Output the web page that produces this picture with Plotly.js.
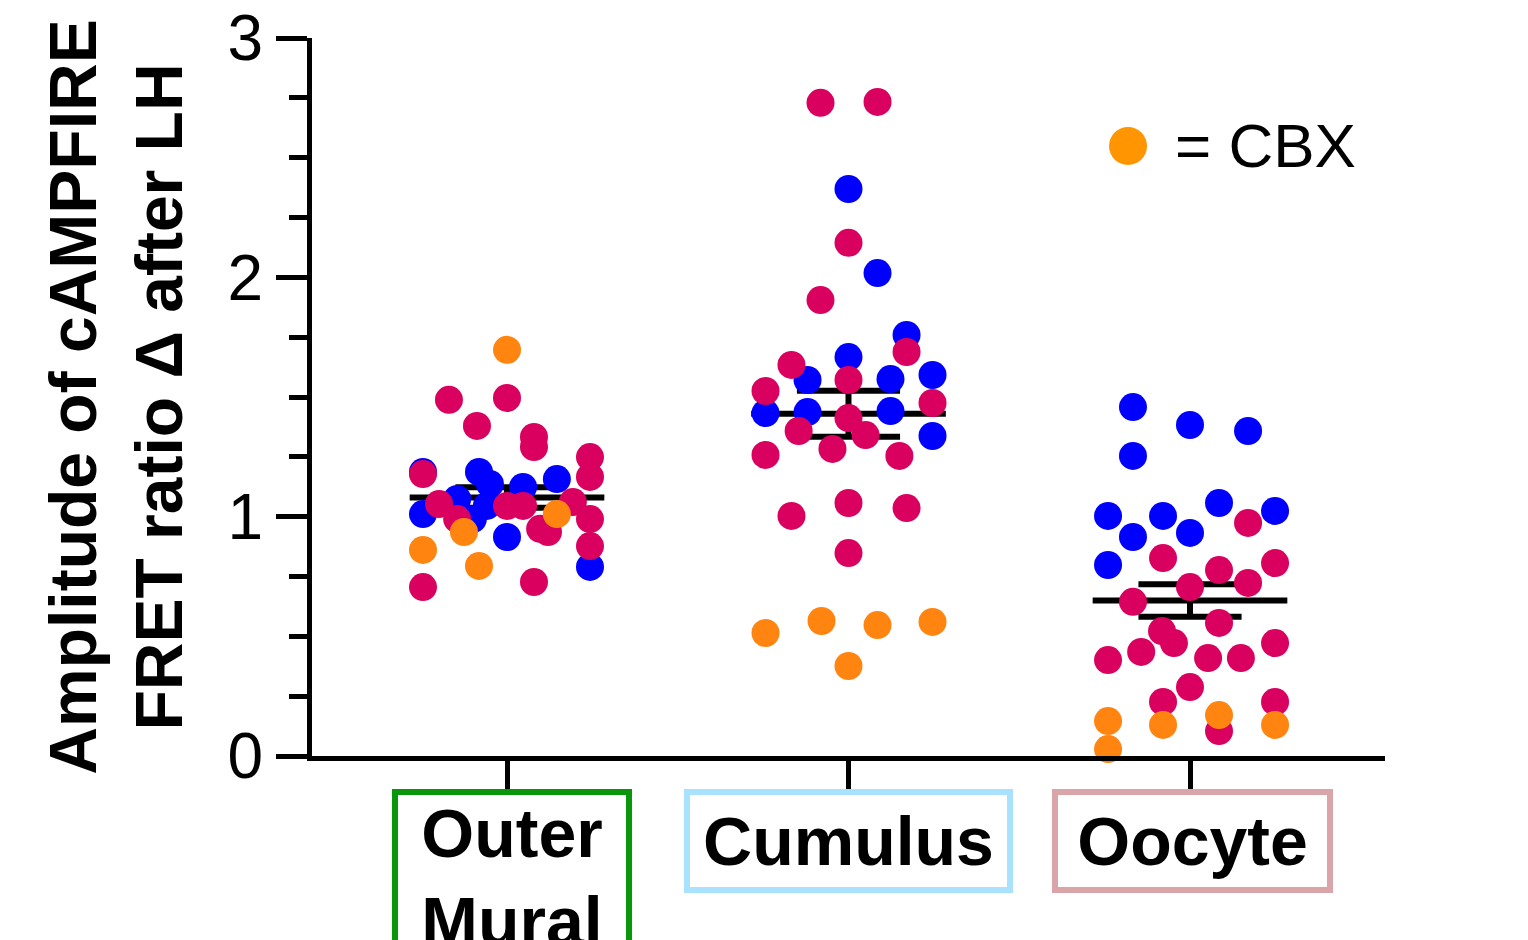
<!DOCTYPE html>
<html>
<head>
<meta charset="utf-8">
<script src="https://cdn.plot.ly/plotly-3.0.1.min.js"></script>
<style>html,body{margin:0;padding:0;background:#fff;}#chart{width:1528px;height:940px;}</style>
</head>
<body>
<div id="chart"></div>
<script>
// ---- categories ----
const categories = ["Outer<br>Mural", "Cumulus", "Oocyte"];
const boxColors = ["#0A960A", "#A8E2FF", "#D9A5A9"];

// ---- values (amplitude) ----
const muralBlue = [1.187, 1.187, 1.137, 1.124, 1.157, 1.074, 1.011, 1.045, 0.990, 0.915, 0.790];
const muralBlueJit = [-0.246, -0.082, -0.050, 0.047, 0.146, -0.146, -0.246, -0.059, -0.100, 0.000, 0.243];
const muralRed = [1.488, 1.496, 1.379, 1.333, 1.291, 1.249, 1.166, 1.178, 1.053, 1.045, 1.045, 1.061, 0.990, 0.990, 0.949, 0.936, 0.877, 0.706, 0.727];
const muralRedJit = [-0.170, 0.000, -0.088, 0.079, 0.079, 0.243, 0.243, -0.246, -0.199, 0.000, 0.047, 0.193, 0.243, -0.146, 0.097, 0.120, 0.243, -0.246, 0.079];
const muralCbx = [1.697, 1.011, 0.936, 0.861, 0.794];
const muralCbxJit = [0.000, 0.146, -0.126, -0.246, -0.082];

const cumBlue = [2.369, 2.018, 1.759, 1.667, 1.571, 1.575, 1.592, 1.433, 1.437, 1.441, 1.337];
const cumBlueJit = [0.000, 0.085, 0.170, 0.000, -0.120, 0.123, 0.246, -0.243, -0.120, 0.123, 0.246];
const cumRed = [2.729, 2.733, 2.144, 1.905, 1.688, 1.634, 1.571, 1.525, 1.475, 1.412, 1.358, 1.341, 1.258, 1.283, 1.254, 1.003, 1.057, 1.036, 0.848];
const cumRedJit = [-0.082, 0.085, 0.000, -0.082, 0.170, -0.167, 0.000, -0.243, 0.246, 0.000, -0.146, 0.050, -0.243, -0.047, 0.149, -0.167, 0.000, 0.170, 0.000];
const cumCbx = [0.514, 0.564, 0.547, 0.560, 0.376];
const cumCbxJit = [-0.243, -0.079, 0.085, 0.246, 0.000];

const oocBlue = [1.458, 1.383, 1.358, 1.254, 1.003, 1.003, 1.057, 1.024, 0.915, 0.932, 0.798];
const oocBlueJit = [-0.167, 0.000, 0.170, -0.167, -0.240, -0.079, 0.085, 0.249, -0.167, 0.000, -0.240];
const oocRed = [0.974, 0.827, 0.777, 0.806, 0.723, 0.706, 0.644, 0.556, 0.522, 0.472, 0.401, 0.435, 0.409, 0.409, 0.472, 0.288, 0.226, 0.226, 0.104];
const oocRedJit = [0.170, -0.079, 0.085, 0.249, 0.170, 0.000, -0.167, 0.085, -0.082, -0.047, -0.240, -0.143, 0.053, 0.149, 0.249, 0.000, -0.079, 0.249, 0.085];
const oocCbx = [0.146, 0.130, 0.171, 0.130, 0.029];
const oocCbxJit = [-0.240, -0.079, 0.085, 0.249, -0.240];

// mean and SEM per group
const means = [1.080, 1.430, 0.650];
const sems = [0.043, 0.096, 0.068];

const yTickVals = [0, 1, 2, 3];
const yTickText = ["0", "1", "2", "3"];
const legendText = "= CBX";

// ---- styles ----
const RED = "#D9005F", BLUE = "#0000FF", ORANGE = "#FF8510", LEG_ORANGE = "#FF9500";
const FONT = "Liberation Sans, Arial, Helvetica, sans-serif";
const MEAN_HALF = 0.285, CAP_HALF = 0.151;

// mean / SEM lines
const lx = [], ly = [];
means.forEach((m, i) => {
  lx.push(i - MEAN_HALF, i + MEAN_HALF, null); ly.push(m, m, null);
  lx.push(i - CAP_HALF, i + CAP_HALF, null); ly.push(m + sems[i], m + sems[i], null);
  lx.push(i - CAP_HALF, i + CAP_HALF, null); ly.push(m - sems[i], m - sems[i], null);
  lx.push(i, i, null); ly.push(m - sems[i], m + sems[i], null);
});

function dots(groupIdx, vals, jit, color) {
  return {
    type: "scatter", mode: "markers",
    x: vals.map((v, k) => groupIdx + jit[k]), y: vals,
    marker: { size: 28, color: color, line: { width: 0 } },
    cliponaxis: false, hoverinfo: "y", showlegend: false
  };
}

const traces = [
  { type: "scatter", mode: "lines", x: lx, y: ly, line: { color: "#000", width: 6 }, hoverinfo: "skip", showlegend: false, cliponaxis: false },
  dots(0, muralBlue, muralBlueJit, BLUE), dots(0, muralRed, muralRedJit, RED), dots(0, muralCbx, muralCbxJit, ORANGE),
  dots(1, cumBlue, cumBlueJit, BLUE), dots(1, cumRed, cumRedJit, RED), dots(1, cumCbx, cumCbxJit, ORANGE),
  dots(2, oocBlue, oocBlueJit, BLUE), dots(2, oocRed, oocRedJit, RED), dots(2, oocCbx, oocCbxJit, ORANGE)
];

const boxWidths = [228, 317, 269];
const boxShift = [5, 0, 2];
const annotations = categories.map((c, i) => ({
  xref: "x", yref: "paper", x: i, y: -0.046, xanchor: "center", yanchor: "top",
  xshift: boxShift[i],
  text: "<b>" + c + "</b>", showarrow: false,
  font: { family: FONT, size: 68, color: "#000" },
  bordercolor: boxColors[i], borderwidth: 6, borderpad: 0,
  width: boxWidths[i], height: i === 0 ? 180 : 92, valign: i === 0 ? "top" : "middle",
  bgcolor: "rgba(255,255,255,0)"
}));
annotations.push({
  xref: "paper", yref: "paper", x: 0.8024, y: 0.8496, xanchor: "left", yanchor: "middle",
  text: legendText, showarrow: false, font: { family: FONT, size: 62, color: "#000" }
});

const layout = {
  width: 1528, height: 940,
  margin: { l: 312, r: 143, t: 38, b: 184 },
  paper_bgcolor: "#fff", plot_bgcolor: "#fff",
  showlegend: false,
  font: { family: FONT, color: "#000" },
  xaxis: {
    range: [-0.571, 2.571], showgrid: false, zeroline: false,
    showline: true, linewidth: 5, linecolor: "#000",
    tickvals: [0, 1, 2], ticks: "outside", ticklen: 28, tickwidth: 5, tickcolor: "#000",
    showticklabels: false, fixedrange: true
  },
  yaxis: {
    range: [0, 3], showgrid: false, zeroline: false,
    showline: true, linewidth: 5, linecolor: "#000",
    tickvals: yTickVals, ticktext: yTickText, ticks: "outside", ticklen: 31, tickwidth: 5, tickcolor: "#000",
    tickfont: { family: FONT, size: 64, color: "#000" },
    ticklabelstandoff: 0,
    minor: { ticks: "outside", ticklen: 18, tickwidth: 5, tickcolor: "#000", dtick: 0.25, tick0: 0, showgrid: false },
    title: { text: "<b>Amplitude of cAMPFIRE<br>FRET ratio Δ after LH</b>", font: { family: FONT, size: 66, color: "#000" }, standoff: 25 },
    fixedrange: true
  },
  shapes: [{
    type: "circle", xref: "paper", yref: "paper",
    xsizemode: "pixel", ysizemode: "pixel", xanchor: 0.7605, yanchor: 0.8496,
    x0: -19, x1: 19, y0: -19, y1: 19,
    fillcolor: LEG_ORANGE, line: { width: 0 }
  }],
  annotations: annotations
};

Plotly.newPlot("chart", traces, layout, { displayModeBar: false, staticPlot: true });
</script>
</body>
</html>
